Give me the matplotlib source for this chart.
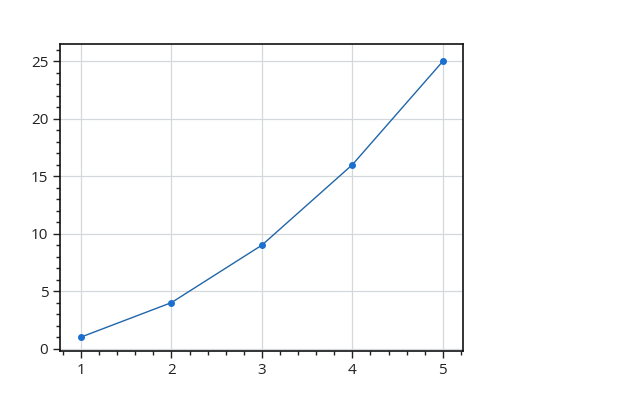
import matplotlib.pyplot as plt
from matplotlib.ticker import MultipleLocator

x = [1, 2, 3, 4, 5]
y = [1, 4, 9, 16, 25]

plt.rcParams['font.family'] = ['Open Sans', 'DejaVu Sans']

fig = plt.figure(figsize=(6.4, 4.08), dpi=100)
ax = fig.add_axes([0.094, 0.14, 0.629, 0.752])

ax.plot(x, y, color='#2166a8', linewidth=1.0, marker='o', markersize=4,
        markerfacecolor='#1b6fd0', markeredgecolor='#1b6fd0', zorder=3)

ax.set_xlim(0.77, 5.22)
ax.set_ylim(-0.2, 26.5)
ax.xaxis.set_major_locator(MultipleLocator(1))
ax.xaxis.set_minor_locator(MultipleLocator(0.2))
ax.yaxis.set_major_locator(MultipleLocator(5))
ax.yaxis.set_minor_locator(MultipleLocator(1))

ax.grid(True, which='major', color='#d4d8dc', linewidth=0.9)
ax.set_axisbelow(True)
ax.tick_params(which='major', length=5, width=1, labelsize=11, colors='#222222')
ax.tick_params(which='minor', length=3, width=1, colors='#222222')
for s in ax.spines.values():
    s.set_linewidth(1.2)
    s.set_color('#111111')

fig.savefig('out.png', dpi=100)
